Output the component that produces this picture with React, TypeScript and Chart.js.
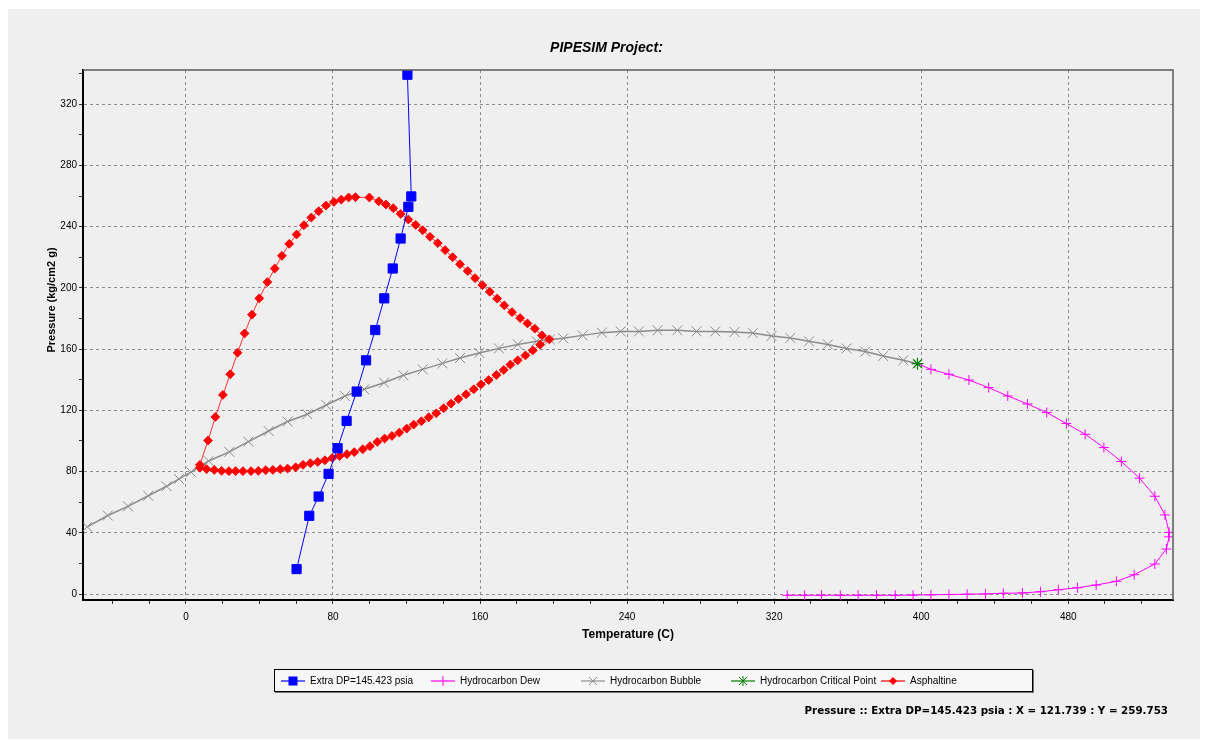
import React, { useEffect, useRef } from 'react';
import { Chart, registerables } from 'chart.js';

Chart.register(...registerables);

// ---------- Data ----------
const extraDpTemp = [60.2, 67.1, 72.2, 77.6, 82.5, 87.4, 92.9, 98.0, 103.0, 107.9, 112.5, 116.8, 121.0, 122.6, 120.5];
const extraDpPres = [16.3, 51.1, 63.7, 78.5, 95.3, 113.1, 132.3, 152.7, 172.5, 193.2, 212.7, 232.3, 253.0, 259.8, 339.3];

const bubbleTemp = [-53.7, -42.5, -31.5, -20.5, -10.5, -3.8, 2.8, 12.4, 23.6, 34.0, 45.0, 55.3, 66.0, 76.4, 86.5, 97.0, 107.8, 118.3, 128.8, 139.5, 149.1, 159.6, 170.3, 180.5, 190.8, 198.0, 205.3, 215.8, 226.3, 236.5, 246.4, 256.6, 267.3, 277.8, 288.0, 298.5, 308.4, 318.6, 328.8, 339.0, 349.2, 359.4, 369.6, 379.3, 390.3, 398.0];
const bubblePres = [43.9, 51.3, 57.3, 64.2, 70.4, 75.2, 79.7, 86.9, 92.9, 99.6, 106.5, 112.7, 117.5, 123.5, 129.4, 133.8, 138.1, 142.9, 146.8, 150.7, 154.2, 157.5, 160.5, 163.1, 165.1, 166.3, 167.1, 169.0, 170.8, 171.6, 171.6, 172.3, 172.3, 171.6, 171.6, 171.2, 170.5, 168.6, 167.3, 165.1, 163.1, 160.5, 158.4, 155.5, 152.7, 150.5];

const criticalTemp = [398.0];
const criticalPres = [150.5];

const dewTemp = [398.0, 405.3, 415.1, 426.0, 436.7, 447.1, 457.8, 468.3, 479.0, 489.2, 499.4, 508.9, 518.8, 527.1, 532.6, 534.9, 534.9, 533.4, 527.1, 515.9, 506.2, 495.2, 485.0, 474.6, 464.9, 455.1, 444.7, 435.0, 425.0, 415.1, 405.3, 395.6, 385.9, 375.7, 365.7, 356.0, 345.8, 336.6, 327.1];
const dewPres = [150.5, 146.8, 143.6, 139.8, 134.9, 129.4, 124.2, 118.6, 111.4, 104.4, 95.7, 86.6, 75.7, 63.9, 51.7, 40.3, 37.4, 29.4, 19.6, 12.6, 8.3, 5.9, 4.1, 2.8, 1.5, 0.7, 0.5, 0.1, -0.1, -0.3, -0.5, -0.7, -0.8, -0.8, -0.8, -0.8, -0.8, -0.8, -0.8];

const asphLowerTemp = [7.6, 11.2, 15.4, 19.4, 23.4, 27.0, 31.0, 35.4, 39.4, 43.4, 47.3, 51.3, 55.3, 59.7, 63.7, 67.7, 71.7, 75.6, 79.6, 83.6, 87.6, 91.6, 96.2, 100.1, 104.1, 108.1, 112.1, 116.1, 120.1, 123.9, 128.1, 132.1, 136.2, 140.2, 144.2, 148.2, 152.4, 156.6, 160.5, 164.7, 168.9, 172.9, 176.5, 180.5, 184.7, 188.7, 192.7, 197.7];
const asphLowerPres = [82.5, 81.6, 81.1, 80.5, 80.3, 80.3, 80.3, 80.3, 80.5, 80.9, 81.1, 81.6, 82.0, 82.8, 84.4, 85.5, 86.3, 87.4, 88.9, 90.2, 91.4, 92.7, 94.6, 96.6, 99.4, 101.6, 103.3, 105.5, 108.1, 110.7, 112.9, 115.5, 118.1, 121.4, 124.4, 127.4, 130.5, 133.8, 137.0, 139.8, 143.1, 146.4, 149.9, 152.7, 155.9, 159.2, 162.9, 166.4];
const asphUpperTemp = [193.7, 189.8, 185.8, 181.8, 177.4, 173.2, 169.3, 165.3, 161.3, 157.3, 153.3, 149.1, 145.1, 141.0, 137.0, 132.8, 128.8, 125.0, 121.0, 116.8, 112.8, 108.8, 104.9, 99.8, 92.2, 88.5, 84.5, 80.5, 76.2, 72.2, 68.2, 64.2, 60.2, 56.2, 52.2, 48.3, 44.3, 39.9, 35.9, 31.9, 28.1, 24.1, 20.1, 16.0, 12.0, 7.6];
const asphUpperPres = [169.0, 173.4, 176.8, 180.3, 184.2, 188.6, 193.0, 197.5, 201.8, 206.4, 211.0, 215.5, 220.1, 224.7, 229.3, 233.4, 237.7, 241.2, 244.7, 248.4, 252.1, 254.5, 256.6, 259.1, 259.3, 259.1, 257.7, 256.2, 253.8, 250.1, 246.0, 241.0, 234.9, 228.8, 221.0, 212.7, 203.8, 193.2, 182.5, 170.3, 157.7, 143.6, 130.1, 115.7, 100.3, 84.4];

// axis ticks
const xAxisMin = -56;
const xAxisMax = 537;
const yAxisMin = -3.9;
const yAxisMax = 342.4;
const xTickValues = [-40, -20, 0, 20, 40, 60, 80, 100, 120, 140, 160, 180, 200, 220, 240, 260, 280, 300, 320, 340, 360, 380, 400, 420, 440, 460, 480, 500, 520];
const xTickLabels = ['0', '80', '160', '240', '320', '400', '480'];
const yTickValues = [0, 20, 40, 60, 80, 100, 120, 140, 160, 180, 200, 220, 240, 260, 280, 300, 320, 340];
const yTickLabels = ['0', '40', '80', '120', '160', '200', '240', '280', '320'];

const titleText = 'PIPESIM Project:';
const xTitle = 'Temperature (C)';
const yTitle = 'Pressure (kg/cm2 g)';
const statusText = 'Pressure :: Extra DP=145.423 psia : X = 121.739 : Y = 259.753';

const legendItems = [
  { label: 'Extra DP=145.423 psia', color: '#0000ff', marker: 'square' },
  { label: 'Hydrocarbon Dew', color: '#ff00ff', marker: 'plus' },
  { label: 'Hydrocarbon Bubble', color: '#8c8c8c', marker: 'x' },
  { label: 'Hydrocarbon Critical Point', color: '#008000', marker: 'star' },
  { label: 'Asphaltine', color: '#ff0000', marker: 'diamond' },
];

const toPoints = (xs: number[], ys: number[]) => xs.map((x, i) => ({ x, y: ys[i] }));

const FONT = "'Liberation Sans', Arial, sans-serif";

const framePlugin = {
  id: 'frame',
  afterDraw(chart: any) {
    const { ctx, chartArea } = chart;
    ctx.save();
    ctx.strokeStyle = '#5a5a5a';
    ctx.lineWidth = 1.5;
    ctx.beginPath();
    ctx.moveTo(chartArea.left, chartArea.top);
    ctx.lineTo(chartArea.right, chartArea.top);
    ctx.lineTo(chartArea.right, chartArea.bottom);
    ctx.stroke();
    ctx.restore();
  },
};

const yTitlePlugin = {
  id: 'yTitle',
  afterDraw(chart: any) {
    const { ctx } = chart;
    ctx.save();
    ctx.translate(44, 291);
    ctx.rotate(-Math.PI / 2);
    ctx.font = `bold 11px ${FONT}`;
    ctx.fillStyle = '#000';
    ctx.textAlign = 'center';
    ctx.textBaseline = 'middle';
    ctx.fillText(yTitle, 0, 0);
    ctx.restore();
  },
};

function LegendIcon({ color, marker }: { color: string; marker: string }) {
  const c = 12;
  const m = 6;
  let shape: React.ReactNode = null;
  if (marker === 'square') shape = <rect x={c - 4.5} y={m - 4.5} width={9} height={9} fill={color} />;
  if (marker === 'plus')
    shape = (
      <g stroke={color} strokeWidth={1}>
        <line x1={c} y1={m - 5} x2={c} y2={m + 5} />
      </g>
    );
  if (marker === 'x')
    shape = (
      <g stroke={color} strokeWidth={1}>
        <line x1={c - 4} y1={m - 4} x2={c + 4} y2={m + 4} />
        <line x1={c - 4} y1={m + 4} x2={c + 4} y2={m - 4} />
      </g>
    );
  if (marker === 'star')
    shape = (
      <g stroke={color} strokeWidth={1}>
        <line x1={c} y1={m - 5} x2={c} y2={m + 5} />
        <line x1={c - 4} y1={m - 4} x2={c + 4} y2={m + 4} />
        <line x1={c - 4} y1={m + 4} x2={c + 4} y2={m - 4} />
      </g>
    );
  if (marker === 'diamond') shape = <polygon points={`${c},${m - 4} ${c + 4},${m} ${c},${m + 4} ${c - 4},${m}`} fill={color} />;
  return (
    <svg width={24} height={12} style={{ display: 'block' }}>
      <line x1={0} y1={m} x2={24} y2={m} stroke={color} strokeWidth={1.2} />
      {shape}
    </svg>
  );
}

export default function App() {
  const canvasRef = useRef<HTMLCanvasElement | null>(null);

  useEffect(() => {
    const canvas = canvasRef.current;
    if (!canvas) return;

    const gridColor = (major: (v: number) => boolean) => (ctx: any) =>
      ctx.tick && major(ctx.tick.value) ? '#8c8c8c' : 'rgba(0,0,0,0)';

    const chart = new Chart(canvas, {
      type: 'scatter',
      data: {
        datasets: [
          {
            label: legendItems[0].label,
            data: toPoints(extraDpTemp, extraDpPres),
            showLine: true,
            borderColor: '#0000ff',
            backgroundColor: '#0000ff',
            borderWidth: 1,
            pointStyle: 'rect',
            pointRadius: 6.5,
            pointBorderWidth: 1,
            order: 0,
          },
          {
            label: legendItems[1].label,
            data: toPoints(dewTemp, dewPres),
            showLine: true,
            borderColor: '#ff00ff',
            backgroundColor: '#ff00ff',
            borderWidth: 1,
            pointStyle: 'cross',
            pointRadius: 5,
            pointBorderWidth: 1,
            order: 4,
          },
          {
            label: legendItems[2].label,
            data: toPoints(bubbleTemp, bubblePres),
            showLine: true,
            borderColor: '#8c8c8c',
            backgroundColor: '#8c8c8c',
            borderWidth: 1.5,
            pointStyle: 'crossRot',
            pointRadius: 7,
            pointBorderWidth: 1,
            order: 3,
          },
          {
            label: legendItems[3].label,
            data: toPoints(criticalTemp, criticalPres),
            showLine: false,
            borderColor: '#008000',
            backgroundColor: '#008000',
            borderWidth: 1,
            pointStyle: 'star',
            pointRadius: 6,
            pointBorderWidth: 1.2,
            order: 1,
          },
          {
            label: legendItems[4].label,
            data: toPoints(asphLowerTemp.concat(asphUpperTemp), asphLowerPres.concat(asphUpperPres)),
            showLine: true,
            borderColor: '#ff3030',
            backgroundColor: '#ff0000',
            borderWidth: 1,
            pointStyle: 'rectRot',
            pointRadius: 4.4,
            pointBorderWidth: 1,
            pointBorderColor: '#ff0000',
            order: 2,
          },
        ],
      },
      options: {
        animation: false,
        responsive: false,
        layout: { padding: { left: 32, right: 35, top: 0, bottom: 95 } },
        plugins: {
          legend: { display: false },
          tooltip: { enabled: false },
          title: {
            display: true,
            text: titleText,
            color: '#000',
            font: { family: FONT, size: 14, weight: 'bold', style: 'italic', lineHeight: 1.2 },
            padding: { top: 31, bottom: 13.2 },
          },
        },
        scales: {
          x: {
            type: 'linear',
            min: xAxisMin,
            max: xAxisMax,
            afterBuildTicks: (s: any) => {
              s.ticks = xTickValues.map((v) => ({ value: v }));
            },
            afterFit: (s: any) => {
              s.height = 45;
            },
            ticks: {
              autoSkip: false,
              maxRotation: 0,
              padding: 7,
              color: '#000',
              font: { family: FONT, size: 10 },
              callback: (v: any) => (xTickLabels.includes(String(v)) ? String(v) : ''),
            },
            grid: {
              color: gridColor((v) => xTickLabels.includes(String(v))),
              lineWidth: 1,
              drawTicks: true,
              tickLength: 4,
              tickColor: '#333',
              tickWidth: 1,
              tickBorderDash: [],
            },
            border: { display: true, color: '#000', width: 2, dash: [3, 3] },
            title: {
              display: true,
              text: xTitle,
              color: '#000',
              font: { family: FONT, size: 12, weight: 'bold', lineHeight: 1.2 },
              padding: { top: 0, bottom: 3 },
            },
          },
          y: {
            type: 'linear',
            min: yAxisMin,
            max: yAxisMax,
            afterBuildTicks: (s: any) => {
              s.ticks = yTickValues.map((v) => ({ value: v }));
            },
            afterFit: (s: any) => {
              s.width = 43;
            },
            ticks: {
              autoSkip: false,
              padding: 2,
              color: '#000',
              font: { family: FONT, size: 10 },
              callback: (v: any) => (yTickLabels.includes(String(v)) ? String(v) : ''),
            },
            grid: {
              color: gridColor((v) => yTickLabels.includes(String(v))),
              lineWidth: 1,
              drawTicks: true,
              tickLength: 4,
              tickColor: '#333',
              tickWidth: 1,
              tickBorderDash: [],
            },
            border: { display: true, color: '#000', width: 2, dash: [3, 3] },
          },
        },
      } as any,
      plugins: [framePlugin, yTitlePlugin],
    });

    return () => chart.destroy();
  }, []);

  return (
    <div
      style={{
        position: 'relative',
        top: 1,
        width: 1200,
        height: 731,
        background: '#efefef',
        overflow: 'hidden',
        fontFamily: FONT,
      }}
    >
      <canvas ref={canvasRef} width={1200} height={731} style={{ display: 'block', width: 1200, height: 731 }} />
      <div
        style={{
          position: 'absolute',
          left: 266,
          top: 660,
          width: 751,
          height: 21,
          border: '1px solid #000',
          boxShadow: '1px 1px 0 #777',
          background: '#f7f7f7',
          display: 'flex',
          alignItems: 'center',
          paddingLeft: 6,
          boxSizing: 'content-box',
        }}
      >
        {legendItems.map((it) => (
          <div key={it.label} style={{ width: 150, display: 'flex', alignItems: 'center', flex: '0 0 150px' }}>
            <LegendIcon color={it.color} marker={it.marker} />
            <span style={{ marginLeft: 5, fontSize: 10, color: '#000', whiteSpace: 'nowrap' }}>{it.label}</span>
          </div>
        ))}
      </div>
      <div
        style={{
          position: 'absolute',
          right: 40,
          top: 695,
          fontFamily: "'DejaVu Sans', Verdana, sans-serif",
          fontWeight: 'bold',
          fontSize: 10.3,
          color: '#000',
          whiteSpace: 'nowrap',
        }}
      >
        {statusText}
      </div>
    </div>
  );
}
